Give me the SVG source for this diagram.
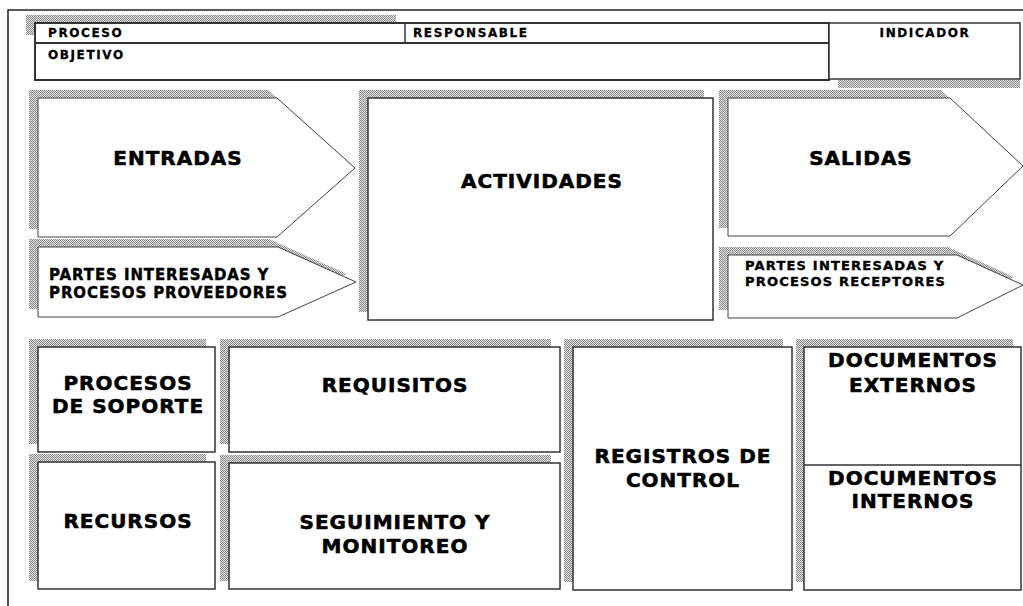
<svg xmlns="http://www.w3.org/2000/svg" width="1023" height="606" viewBox="0 0 1023 606">
<defs>
<pattern id="dots" width="2" height="2" patternUnits="userSpaceOnUse">
<rect width="2" height="2" fill="#e0e0e0"/>
<rect width="1" height="1" fill="#8c8c8c"/>
<rect x="1" y="1" width="1" height="1" fill="#8c8c8c"/>
</pattern>
</defs>
<style>
.sh{fill:url(#dots);stroke:none}
.bx{fill:#fff;stroke:#333;stroke-width:1.5}
.ar{fill:#fff;stroke:#444;stroke-width:1}
.hd{fill:#fff;stroke:#333;stroke-width:2}
.t{font-family:"DejaVu Sans",Verdana,sans-serif;font-weight:bold;fill:#000;stroke:#000;stroke-width:0.4}
.sm{font-size:12px;letter-spacing:1.6px;stroke-width:0.3}
.big{font-size:20px;letter-spacing:1px;text-anchor:middle;stroke-width:0.6}
</style>
<rect width="1023" height="606" fill="#fff"/>
<path d="M8,606 L8,10 L1023,10" fill="none" stroke="#222" stroke-width="1.5"/>

<g id="header">
<rect class="sh" x="26" y="15" width="370" height="20"/>
<rect class="hd" x="35" y="23" width="794" height="57"/>
<line x1="35" y1="43" x2="829" y2="43" stroke="#333" stroke-width="2"/>
<line x1="405" y1="23" x2="405" y2="43" stroke="#333" stroke-width="1.5"/>
<text class="t sm" x="48" y="37">PROCESO</text>
<text class="t sm" x="413" y="37">RESPONSABLE</text>
<text class="t sm" x="48" y="59">OBJETIVO</text>
</g>
<g id="indicador">
<rect class="sh" x="838" y="80" width="182" height="8"/>
<rect class="bx" x="829" y="23" width="191" height="56"/>
<text class="t sm" x="925" y="37" text-anchor="middle">INDICADOR</text>
</g>

<g id="entradas">
<path class="sh" d="M29,90 L268,90 L346,160 L268,229 L29,229 Z"/>
<path class="ar" d="M38,98 L277,98 L355,168 L277,237 L38,237 Z"/>
<text class="t big" x="178" y="165">ENTRADAS</text>
</g>
<g id="partes-proveedores">
<path class="sh" d="M29,239 L269,239 L347,274 L269,309 L29,309 Z"/>
<path class="ar" d="M38,247 L278,247 L356,282 L278,317 L38,317 Z"/>
<text class="t" x="49" y="280" font-size="15" letter-spacing="0.9">PARTES INTERESADAS Y</text>
<text class="t" x="49" y="298" font-size="15" letter-spacing="0.9">PROCESOS PROVEEDORES</text>
</g>
<g id="actividades">
<rect class="sh" x="359" y="90" width="345" height="222"/>
<rect class="bx" x="368" y="98" width="345" height="222"/>
<text class="t big" x="542" y="188">ACTIVIDADES</text>
</g>
<g id="salidas">
<path class="sh" d="M719,90 L941,90 L1014,158 L941,228 L719,228 Z"/>
<path class="ar" d="M728,98 L950,98 L1023,166 L950,236 L728,236 Z"/>
<text class="t big" x="861" y="165">SALIDAS</text>
</g>
<g id="partes-receptores">
<path class="sh" d="M719,247 L948,247 L1014,277 L948,310 L719,310 Z"/>
<path class="ar" d="M728,255 L957,255 L1023,285 L957,318 L728,318 Z"/>
<text class="t" x="745" y="270" font-size="13" letter-spacing="1.2" stroke-width="0.3">PARTES INTERESADAS Y</text>
<text class="t" x="745" y="286" font-size="13" letter-spacing="1.2" stroke-width="0.3">PROCESOS RECEPTORES</text>
</g>

<g id="procesos-soporte">
<rect class="sh" x="29" y="339" width="177" height="105"/>
<rect class="bx" x="38" y="347" width="177" height="105"/>
<text class="t big" x="128" y="390">PROCESOS</text>
<text class="t big" x="128" y="413">DE SOPORTE</text>
</g>
<g id="requisitos">
<rect class="sh" x="220" y="339" width="331" height="105"/>
<rect class="bx" x="229" y="347" width="331" height="105"/>
<text class="t big" x="395" y="392">REQUISITOS</text>
</g>
<g id="recursos">
<rect class="sh" x="29" y="454" width="177" height="127"/>
<rect class="bx" x="38" y="462" width="177" height="127"/>
<text class="t big" x="128" y="528">RECURSOS</text>
</g>
<g id="seguimiento">
<rect class="sh" x="220" y="455" width="331" height="126"/>
<rect class="bx" x="229" y="463" width="331" height="126"/>
<text class="t big" x="395" y="529">SEGUIMIENTO Y</text>
<text class="t big" x="395" y="553">MONITOREO</text>
</g>
<g id="registros">
<rect class="sh" x="564" y="339" width="219" height="243"/>
<rect class="bx" x="573" y="347" width="219" height="243"/>
<text class="t big" x="683" y="463">REGISTROS DE</text>
<text class="t big" x="683" y="487">CONTROL</text>
</g>
<g id="documentos">
<rect class="sh" x="796" y="339" width="217" height="243"/>
<rect class="bx" x="804" y="347" width="217" height="243"/>
<line x1="804" y1="465" x2="1021" y2="465" stroke="#333" stroke-width="1.5"/>
<text class="t big" x="913" y="367">DOCUMENTOS</text>
<text class="t big" x="913" y="392">EXTERNOS</text>
<text class="t big" x="913" y="485">DOCUMENTOS</text>
<text class="t big" x="913" y="508">INTERNOS</text>
</g>
<g id="connectors"></g>
</svg>
